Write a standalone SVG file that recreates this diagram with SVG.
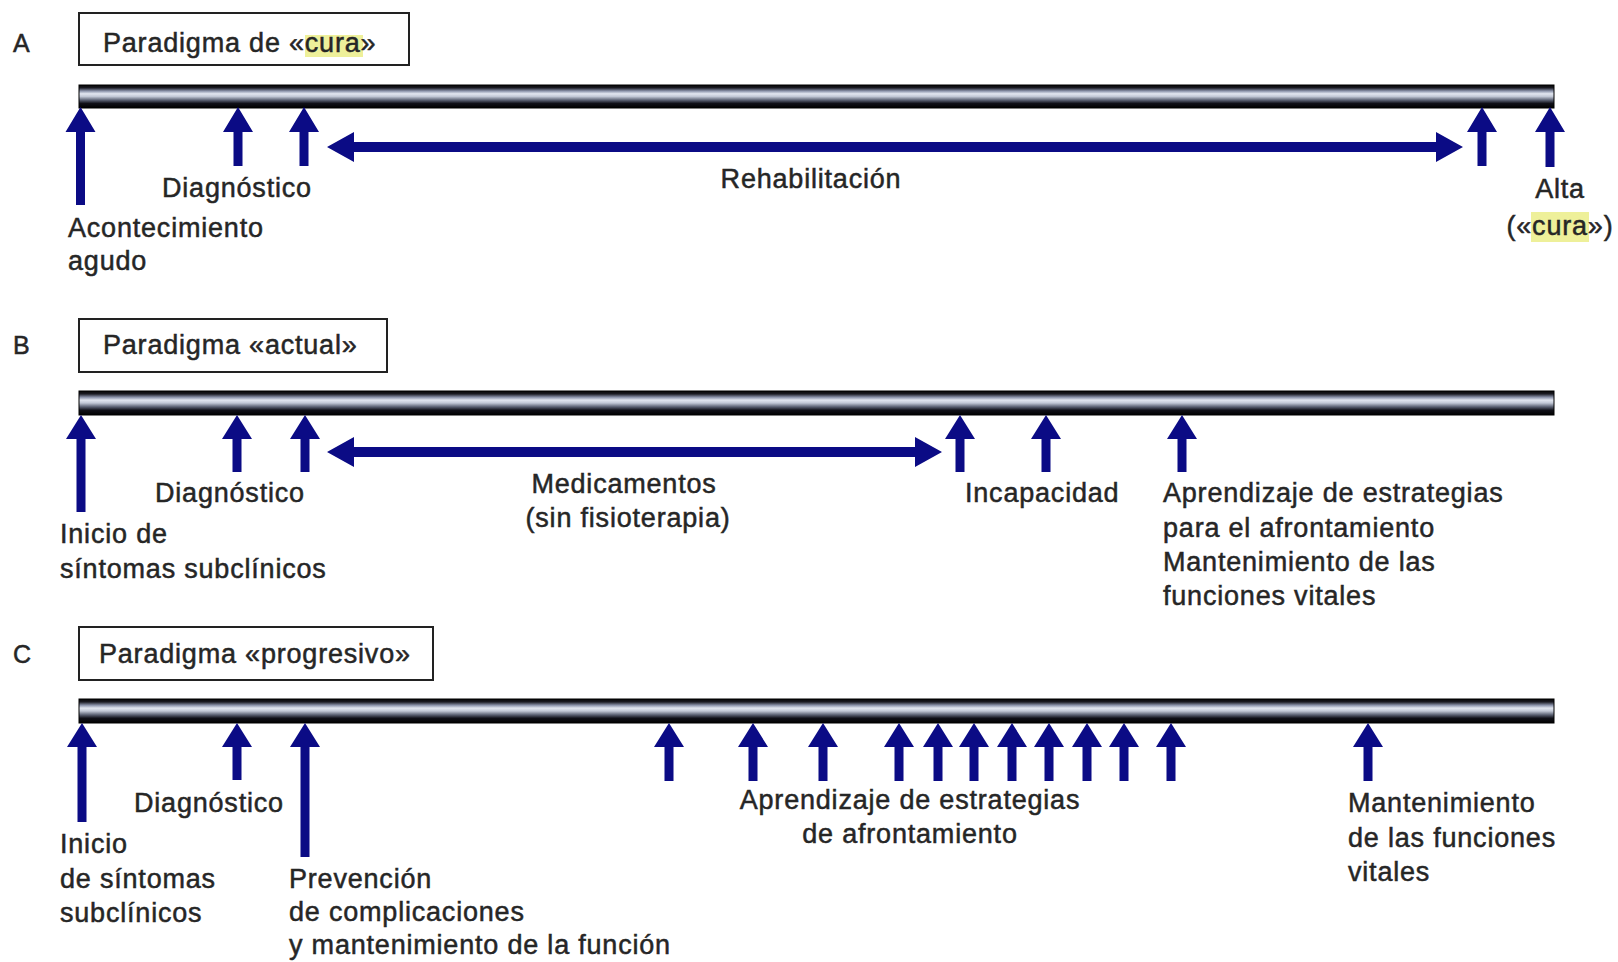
<svg xmlns="http://www.w3.org/2000/svg" width="1618" height="962" viewBox="0 0 1618 962">
<defs>
<linearGradient id="barGrad" x1="0" y1="0" x2="0" y2="1">
<stop offset="0" stop-color="#050505"/>
<stop offset="0.12" stop-color="#1a1a22"/>
<stop offset="0.26" stop-color="#8a92aa"/>
<stop offset="0.38" stop-color="#e2e6f0"/>
<stop offset="0.5" stop-color="#c2c8d6"/>
<stop offset="0.66" stop-color="#5a6072"/>
<stop offset="0.8" stop-color="#101018"/>
<stop offset="1" stop-color="#000000"/>
</linearGradient>
<style>
text{font-family:"Liberation Sans",Arial,sans-serif;font-size:27px;letter-spacing:0.8px;fill:#262626;stroke:#262626;stroke-width:0.5px}
.lbl{font-size:25px}
.box{fill:#fff;stroke:#222;stroke-width:2}
.bar{fill:url(#barGrad);stroke:#000;stroke-width:1}
.arr{fill:#0b0b85}
.hl{fill:#eef09a}
.mid{text-anchor:middle}
</style>
</defs>
<rect width="1618" height="962" fill="#fff"/>

<!-- Panel A -->
<g id="panelA-label"><text class="lbl" x="13" y="52">A</text></g>
<g id="panelA-title">
<rect class="box" x="79" y="13" width="330" height="52"/>
<rect class="hl" x="305" y="35" width="58" height="22"/>
<text x="103" y="52">Paradigma de «cura»</text>
</g>
<g id="panelA-bar"><rect class="bar" x="79" y="85" width="1475" height="23"/></g>
<g id="A-acontecimiento"><text x="68" y="237">Acontecimiento</text><text x="68" y="270">agudo</text></g>
<g id="A-diagnostico"><text x="162" y="197">Diagnóstico</text></g>
<g id="A-rehabilitacion"><text class="mid" x="811" y="188">Rehabilitación</text></g>
<g id="A-alta">
<rect class="hl" x="1531" y="212" width="58" height="30"/>
<text class="mid" x="1560" y="198">Alta</text>
<text class="mid" x="1560" y="235">(«cura»)</text>
</g>

<!-- Panel B -->
<g id="panelB-label"><text class="lbl" x="13" y="354">B</text></g>
<g id="panelB-title">
<rect class="box" x="79" y="319" width="308" height="53"/>
<text x="103" y="354">Paradigma «actual»</text>
</g>
<g id="panelB-bar"><rect class="bar" x="79" y="391" width="1475" height="24"/></g>
<g id="B-inicio"><text x="60" y="543">Inicio de</text><text x="60" y="578">síntomas subclínicos</text></g>
<g id="B-diagnostico"><text x="155" y="502">Diagnóstico</text></g>
<g id="B-medicamentos"><text class="mid" x="624" y="493">Medicamentos</text><text class="mid" x="628" y="527">(sin fisioterapia)</text></g>
<g id="B-incapacidad"><text x="965" y="502">Incapacidad</text></g>
<g id="B-aprendizaje">
<text x="1163" y="502">Aprendizaje de estrategias</text>
<text x="1163" y="537">para el afrontamiento</text>
<text x="1163" y="571">Mantenimiento de las</text>
<text x="1163" y="605">funciones vitales</text>
</g>

<!-- Panel C -->
<g id="panelC-label"><text class="lbl" x="13" y="663">C</text></g>
<g id="panelC-title">
<rect class="box" x="79" y="627" width="354" height="53"/>
<text x="99" y="663">Paradigma «progresivo»</text>
</g>
<g id="panelC-bar"><rect class="bar" x="79" y="699" width="1475" height="24"/></g>
<g id="C-inicio"><text x="60" y="853">Inicio</text><text x="60" y="888">de síntomas</text><text x="60" y="922">subclínicos</text></g>
<g id="C-diagnostico"><text x="134" y="812">Diagnóstico</text></g>
<g id="C-prevencion"><text x="289" y="888">Prevención</text><text x="289" y="921">de complicaciones</text><text x="289" y="954">y mantenimiento de la función</text></g>
<g id="C-aprendizaje"><text class="mid" x="910" y="809">Aprendizaje de estrategias</text><text class="mid" x="910" y="843">de afrontamiento</text></g>
<g id="C-mantenimiento"><text x="1348" y="812">Mantenimiento</text><text x="1348" y="847">de las funciones</text><text x="1348" y="881">vitales</text></g>

<g id="connectors">
<!-- A -->
<path class="arr" d="M80.5,107 L95.5,132 L85,132 L85,205 L76,205 L76,132 L65.5,132 Z"/>
<path class="arr" d="M238,107 L253,132 L242.5,132 L242.5,166 L233.5,166 L233.5,132 L223,132 Z"/>
<path class="arr" d="M304,107 L319,132 L308.5,132 L308.5,166 L299.5,166 L299.5,132 L289,132 Z"/>
<path class="arr" d="M1482,107 L1497,132 L1486.5,132 L1486.5,166 L1477.5,166 L1477.5,132 L1467,132 Z"/>
<path class="arr" d="M1550,107 L1565,132 L1554.5,132 L1554.5,167 L1545.5,167 L1545.5,132 L1535,132 Z"/>
<path class="arr" d="M327,147 L354,132 L354,142 L1436,142 L1436,132 L1463,147 L1436,162 L1436,152 L354,152 L354,162 Z"/>
<!-- B -->
<path class="arr" d="M81,415 L96,439 L85.5,439 L85.5,512 L76.5,512 L76.5,439 L66,439 Z"/>
<path class="arr" d="M237,415 L252,439 L241.5,439 L241.5,472 L232.5,472 L232.5,439 L222,439 Z"/>
<path class="arr" d="M305,415 L320,439 L309.5,439 L309.5,472 L300.5,472 L300.5,439 L290,439 Z"/>
<path class="arr" d="M960,415 L975,439 L964.5,439 L964.5,472 L955.5,472 L955.5,439 L945,439 Z"/>
<path class="arr" d="M1046,415 L1061,439 L1050.5,439 L1050.5,472 L1041.5,472 L1041.5,439 L1031,439 Z"/>
<path class="arr" d="M1182,415 L1197,439 L1186.5,439 L1186.5,472 L1177.5,472 L1177.5,439 L1167,439 Z"/>
<path class="arr" d="M327,452 L354,437 L354,447 L915,447 L915,437 L942,452 L915,467 L915,457 L354,457 L354,467 Z"/>
<!-- C -->
<path class="arr" d="M82,723 L97,747 L86.5,747 L86.5,822 L77.5,822 L77.5,747 L67,747 Z"/>
<path class="arr" d="M237,723 L252,747 L241.5,747 L241.5,780 L232.5,780 L232.5,747 L222,747 Z"/>
<path class="arr" d="M305,723 L320,747 L309.5,747 L309.5,857 L300.5,857 L300.5,747 L290,747 Z"/>
<path class="arr" d="M669,723 L684,747 L673.5,747 L673.5,781 L664.5,781 L664.5,747 L654,747 Z"/>
<path class="arr" d="M753,723 L768,747 L757.5,747 L757.5,781 L748.5,781 L748.5,747 L738,747 Z"/>
<path class="arr" d="M823,723 L838,747 L827.5,747 L827.5,781 L818.5,781 L818.5,747 L808,747 Z"/>
<path class="arr" d="M899,723 L914,747 L903.5,747 L903.5,781 L894.5,781 L894.5,747 L884,747 Z"/>
<path class="arr" d="M938,723 L953,747 L942.5,747 L942.5,781 L933.5,781 L933.5,747 L923,747 Z"/>
<path class="arr" d="M974,723 L989,747 L978.5,747 L978.5,781 L969.5,781 L969.5,747 L959,747 Z"/>
<path class="arr" d="M1012,723 L1027,747 L1016.5,747 L1016.5,781 L1007.5,781 L1007.5,747 L997,747 Z"/>
<path class="arr" d="M1049,723 L1064,747 L1053.5,747 L1053.5,781 L1044.5,781 L1044.5,747 L1034,747 Z"/>
<path class="arr" d="M1087,723 L1102,747 L1091.5,747 L1091.5,781 L1082.5,781 L1082.5,747 L1072,747 Z"/>
<path class="arr" d="M1124,723 L1139,747 L1128.5,747 L1128.5,781 L1119.5,781 L1119.5,747 L1109,747 Z"/>
<path class="arr" d="M1171,723 L1186,747 L1175.5,747 L1175.5,781 L1166.5,781 L1166.5,747 L1156,747 Z"/>
<path class="arr" d="M1368,723 L1383,747 L1372.5,747 L1372.5,781 L1363.5,781 L1363.5,747 L1353,747 Z"/>
</g>
</svg>
